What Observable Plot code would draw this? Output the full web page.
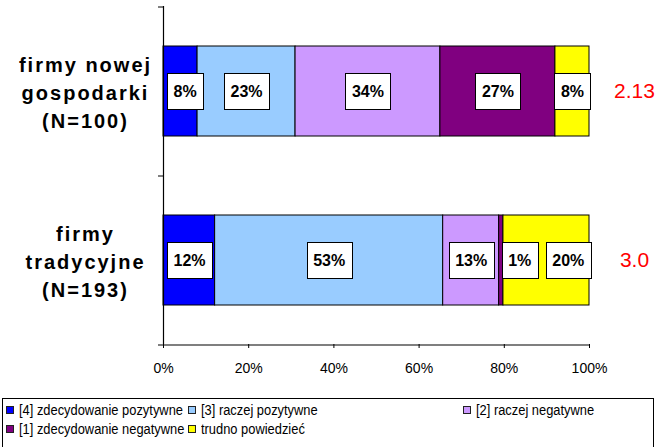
<!DOCTYPE html>
<html>
<head>
<meta charset="utf-8">
<script src="https://cdn.jsdelivr.net/npm/d3@7"></script>
<script src="https://cdn.jsdelivr.net/npm/@observablehq/plot@0.6"></script>
<style>
  html, body { margin: 0; padding: 0; background: #fff; }
  body { width: 658px; height: 447px; position: relative; overflow: hidden; font-family: "Liberation Sans", Arial, sans-serif; }
  #chart { position: absolute; left: 0; top: 0; }
  #legend {
    position: absolute; left: 2px; top: 398px; width: 652px; height: 56px;
    box-sizing: border-box; border: 1px solid #000; padding: 1px 0 0 3px;
    display: grid; grid-template-columns: 182px 275px 1fr; grid-auto-rows: 19px;
    align-items: center; font-size: 14px; color: #000;
  }
  #legend .item { display: flex; align-items: center; white-space: nowrap; }
  #legend .sw { width: 8px; height: 8px; box-sizing: border-box; border: 1px solid #222; margin-right: 5px; flex: none; }
  #legend .lab { display: inline-block; transform: scaleX(0.92); transform-origin: 0 50%; }
</style>
</head>
<body>
<div id="chart"></div>
<div id="legend"></div>
<script>
// ---- data ----
const categories = ["firmy nowej gospodarki (N=100)", "firmy tradycyjne (N=193)"];
const categoryLabels = ["firmy nowej\ngospodarki\n(N=100)", "firmy\ntradycyjne\n(N=193)"];
const responses = ["[4] zdecydowanie pozytywne", "[3] raczej pozytywne", "[2] raczej negatywne", "[1] zdecydowanie negatywne", "trudno powiedzieć"];
const colors = ["#0000FF", "#99CCFF", "#CC99FF", "#800080", "#FFFF00"];
const valuesNew = [8, 23, 34, 27, 8];
const valuesTrad = [12, 53, 13, 1, 20];
const means = ["2.13", "3.0"];
const xTicks = [0, 0.2, 0.4, 0.6, 0.8, 1];

// ---- table ----
const series = [valuesNew, valuesTrad];
const data = [];
categories.forEach((c, ci) => responses.forEach((r, ri) => data.push({cat: c, resp: r, value: series[ci][ri]})));

const W = 658, H = 397, mL = 163, mR = 69, mT = 6, mB = 53;
const step = (H - mT - mB) / categories.length;
const font = "'Liberation Sans', Arial, sans-serif";

const plot = Plot.plot({
  width: W, height: H,
  marginLeft: mL, marginRight: mR, marginTop: mT, marginBottom: mB,
  style: {fontFamily: font, color: "#000", background: "#fff", overflow: "visible"},
  x: {domain: [0, 1]},
  y: {domain: categories, paddingInner: 0.47, paddingOuter: 0.235, axis: null},
  color: {domain: responses, range: colors},
  marks: [
    Plot.barX(data, Plot.stackX({x: "value", y: "cat", fill: "resp", order: responses, offset: "normalize", stroke: "#000", strokeWidth: 1})),
    Plot.ruleX([0], {stroke: "#000", strokeWidth: 1.2}),
    Plot.ruleY(categories, {dy: -step / 2, x1: 0, x2: 0, insetLeft: -5, stroke: "#000"}),
    Plot.ruleY([categories[categories.length - 1]], {dy: step / 2, x1: 0, x2: 1, insetLeft: -5, stroke: "#000", strokeWidth: 1.2}),
    Plot.axisX(xTicks, {tickSize: 4, tickPadding: 15, fontSize: 14, label: null, tickFormat: d => Math.round(d * 100) + "%"}),
    Plot.text(data, Plot.stackX({x: "value", y: "cat", z: "resp", order: responses, offset: "normalize",
      text: d => d.value + "%", fontSize: 16, fontWeight: "bold", fill: "#010101", className: "pct"})),
    Plot.text(categories, {y: d => d, x: 0, dx: -78, text: (d, i) => categoryLabels[i], textAnchor: "middle",
      fontSize: 20, fontWeight: "bold", lineHeight: 1.4, fill: "#020202", className: "ylab"}),
    Plot.text(categories, {y: d => d, x: 1, dx: 45, text: (d, i) => means[i], textAnchor: "middle",
      fontSize: 21, fill: "#FF0000", className: "means"})
  ]
});
document.getElementById("chart").appendChild(plot);

function findGroup(cls, fill) {
  let g = plot.querySelector("g." + cls);
  if (g) return g;
  const all = Array.from(plot.querySelectorAll("g"));
  return all.find(e => (e.getAttribute("fill") || "").toLowerCase() === fill) || null;
}

// letter spacing for the category labels
const ylab = findGroup("ylab", "#020202");
if (ylab) { ylab.setAttribute("letter-spacing", "2"); ylab.setAttribute("fill", "#000"); }

// white boxes behind percentage labels, pushed right to avoid overlap
const pctG = findGroup("pct", "#010101");
if (pctG) {
  pctG.setAttribute("fill", "#000");
  const svgRect = plot.getBoundingClientRect();
  const ns = "http://www.w3.org/2000/svg";
  const boxG = document.createElementNS(ns, "g");
  pctG.parentNode.insertBefore(boxG, pctG);
  const items = Array.from(pctG.querySelectorAll("text")).map(t => {
    const b = t.getBoundingClientRect();
    return {t, left: b.left - svgRect.left, w: b.width, cy: b.top - svgRect.top + b.height / 2};
  });
  const rows = d3.groups(items, d => Math.round(d.cy / 20));
  const padX = 6.5, boxH = 36, gap = 8;
  for (const [, row] of rows) {
    row.sort((a, b) => a.left - b.left);
    let minLeft = mL + 4;
    for (const it of row) {
      let left = it.left - padX;
      const w = it.w + 2 * padX;
      const shift = Math.max(0, minLeft - left);
      if (shift > 0) {
        const tr = it.t.getAttribute("transform") || "";
        it.t.setAttribute("transform", `translate(${shift},0) ${tr}`);
        left += shift;
      }
      const r = document.createElementNS(ns, "rect");
      r.setAttribute("x", Math.round(left) + 0.5);
      r.setAttribute("y", Math.round(it.cy - boxH / 2) + 0.5);
      r.setAttribute("width", Math.round(w));
      r.setAttribute("height", boxH);
      r.setAttribute("fill", "#fff");
      r.setAttribute("stroke", "#000");
      r.setAttribute("stroke-width", 1);
      boxG.appendChild(r);
      minLeft = left + w + gap;
    }
  }
}

// legend
const legend = document.getElementById("legend");
responses.forEach((r, i) => {
  const item = document.createElement("div");
  item.className = "item";
  const sw = document.createElement("span");
  sw.className = "sw";
  sw.style.background = colors[i];
  const lab = document.createElement("span");
  lab.className = "lab";
  lab.textContent = r;
  item.appendChild(sw); item.appendChild(lab);
  legend.appendChild(item);
});
</script>
</body>
</html>
